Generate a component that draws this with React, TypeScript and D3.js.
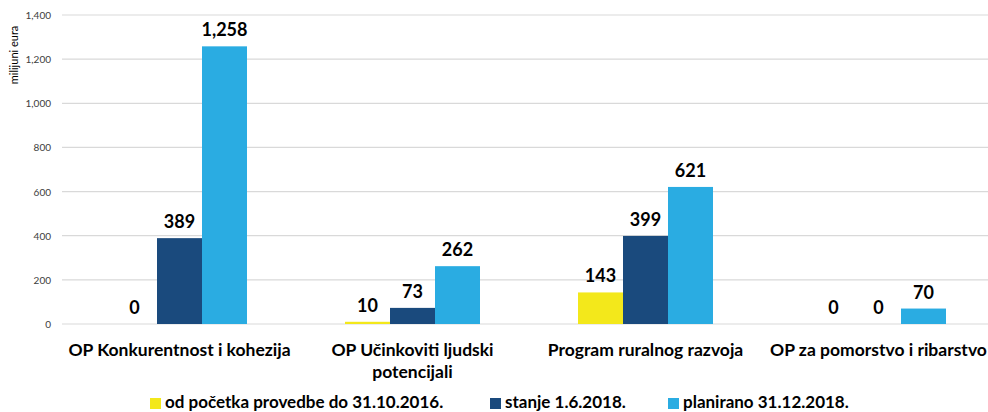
import React, { useEffect, useRef } from 'react';
import * as d3 from 'd3';

const categories = [
  ['OP Konkurentnost i kohezija'],
  ['OP Učinkoviti ljudski', 'potencijali'],
  ['Program ruralnog razvoja'],
  ['OP za pomorstvo i ribarstvo'],
];
const seriesNames = ['od početka provedbe do 31.10.2016.', 'stanje 1.6.2018.', 'planirano 31.12.2018.'];
const seriesColors = ['#f3e81b', '#1a4a7d', '#2aace2'];
const upTo2016 = [0, 10, 143, 0];
const state2018 = [389, 73, 399, 0];
const planned2018 = [1258, 262, 621, 70];
const yTicks = [0, 200, 400, 600, 800, 1000, 1200, 1400];

const W = 988;
const H = 412;
const FONT = 'Lato, "Liberation Sans", sans-serif';

const App: React.FC = () => {
  const ref = useRef<SVGSVGElement>(null);

  useEffect(() => {
    if (!ref.current) return;
    const svg = d3.select(ref.current);
    svg.selectAll('*').remove();

    const series = [upTo2016, state2018, planned2018];
    const idx = categories.map((_, i) => i);

    const y = d3.scaleLinear().domain([0, 1400]).range([324, 15]);
    const x0 = d3.scaleBand<number>().domain(idx).range([63, 995]).padding(0);
    const step = x0.bandwidth();
    const x1 = d3.scaleBand<number>().domain([0, 1, 2]).range([(step - 135) / 2, (step + 135) / 2]);

    // gridlines
    svg.append('g')
      .selectAll('line')
      .data(yTicks)
      .enter()
      .append('line')
      .attr('x1', 62)
      .attr('x2', W)
      .attr('y1', d => y(d))
      .attr('y2', d => y(d))
      .attr('stroke', '#d9d9d9')
      .attr('stroke-width', 1.2);

    // y tick labels
    svg.append('g')
      .selectAll('text')
      .data(yTicks)
      .enter()
      .append('text')
      .attr('x', 51)
      .attr('y', d => y(d))
      .attr('text-anchor', 'end')
      .attr('dominant-baseline', 'central')
      .attr('fill', '#404040')
      .style('font-family', FONT)
      .style('font-size', '10px')
      .text(d => d3.format(',')(d));

    svg.append('text')
      .attr('transform', 'translate(18,55) rotate(-90)')
      .attr('text-anchor', 'middle')
      .attr('fill', '#000')
      .style('font-family', FONT)
      .style('font-size', '11px')
      .text('milijuni eura');

    // bars + labels
    series.forEach((vals, s) => {
      const g = svg.append('g');
      g.selectAll('rect')
        .data(vals)
        .enter()
        .append('rect')
        .attr('x', (_, i) => x0(i)! + x1(s)!)
        .attr('y', d => y(d))
        .attr('width', x1.bandwidth())
        .attr('height', d => y(0) - y(d))
        .attr('fill', seriesColors[s]);

      g.selectAll('text')
        .data(vals)
        .enter()
        .append('text')
        .attr('x', (_, i) => x0(i)! + x1(s)! + x1.bandwidth() / 2)
        .attr('y', d => y(d) - 10)
        .attr('text-anchor', 'middle')
        .attr('fill', '#000')
        .style('font-family', FONT)
        .style('font-weight', 'bold')
        .style('font-size', '18px')
        .text(d => d3.format(',')(d));
    });

    // category labels
    const cat = svg.append('g')
      .selectAll('text')
      .data(categories)
      .enter()
      .append('text')
      .attr('x', (_, i) => x0(i)! + step / 2)
      .attr('y', 356)
      .attr('text-anchor', 'middle')
      .attr('fill', '#000')
      .style('font-family', FONT)
      .style('font-weight', 'bold')
      .style('font-size', '17.5px');
    cat.each(function (lines, i) {
      const t = d3.select(this);
      lines.forEach((l, k) => {
        t.append('tspan')
          .attr('x', x0(i)! + step / 2)
          .attr('dy', k === 0 ? 0 : 22)
          .text(l);
      });
    });

    // legend
    const legendX = [150, 490, 668];
    const leg = svg.append('g')
      .selectAll('g')
      .data(seriesNames)
      .enter()
      .append('g')
      .attr('transform', (_, i) => `translate(${legendX[i]},402)`);
    leg.append('rect')
      .attr('x', 0)
      .attr('y', -4)
      .attr('width', 11)
      .attr('height', 11)
      .attr('fill', (_, i) => seriesColors[i]);
    leg.append('text')
      .attr('x', 15)
      .attr('y', 6)
      .attr('fill', '#000')
      .style('font-family', FONT)
      .style('font-weight', 'bold')
      .style('font-size', '17px')
      .text(d => d);
  }, []);

  return (
    <svg
      ref={ref}
      width={W}
      height={H}
      style={{ position: 'absolute', left: 0, top: 0, background: '#fff' }}
    ></svg>
  );
};

export default App;
